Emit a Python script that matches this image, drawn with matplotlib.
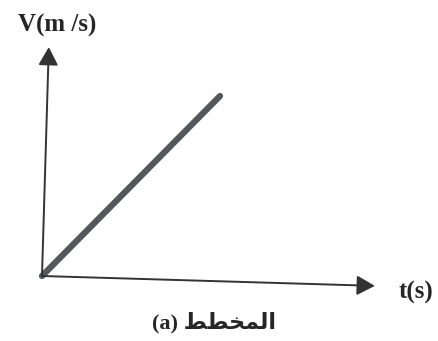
import matplotlib.pyplot as plt
from matplotlib.transforms import Affine2D

# velocity grows linearly with time (no scale given on the sketch)
t = [0, 5]
v = [0, 5]

x_label = "t(s)"
y_label = "V(m /s)"
# "المخطط" written with Arabic presentation forms so it joins up when drawn
caption = "(a) \uFEC2\uFEC4\uFEA8\uFEE4\uFEDF\uFE8D"

W, H = 438, 341
fig = plt.figure(figsize=(W / 100, H / 100), dpi=100)
fig.patch.set_facecolor("white")

# origin at pixel (42, 276); axes are 333 px wide, 229 px tall
ax = fig.add_axes([42 / W, (H - 276) / H, 333 / W, 229 / H])
ax.set_xlim(0, 5 * 333 / 172.6)
ax.set_ylim(0, 5 * 229 / 185.2)
ax.axis("off")

# the scan is turned a little clockwise, so tilt the whole drawing
trans = ax.transData + Affine2D().rotate_deg_around(42, H - 276, -1.7)

ax.plot(t, v, color="#54575c", lw=4.5, solid_capstyle="round",
        transform=trans, clip_on=False)

xmax = ax.get_xlim()[1]
ymax = ax.get_ylim()[1]
arrow = dict(arrowstyle="-|>,head_length=0.55,head_width=0.3", color="#333333",
             lw=1.4, shrinkA=0, shrinkB=0, mutation_scale=20)
ax.annotate("", xy=(xmax, 0), xytext=(0, 0), xycoords=trans, textcoords=trans,
            arrowprops=arrow)
ax.annotate("", xy=(0, ymax), xytext=(0, 0), xycoords=trans, textcoords=trans,
            arrowprops=arrow)

serif = ["Liberation Serif", "DejaVu Serif"]
fig.text(57 / W, 1 - 25 / H, y_label, fontsize=18, fontweight="bold",
         family=serif, color="#262626", ha="center", va="center")
fig.text(416 / W, 1 - 292 / H, x_label, fontsize=18, fontweight="bold",
         family=serif, color="#262626", ha="center", va="center")
fig.text(214 / W, 1 - 323 / H, caption, fontsize=16, fontweight="bold",
         family=["Liberation Serif", "DejaVu Sans"], color="#262626",
         ha="center", va="center")

fig.savefig("out.png", dpi=100, facecolor="white")
